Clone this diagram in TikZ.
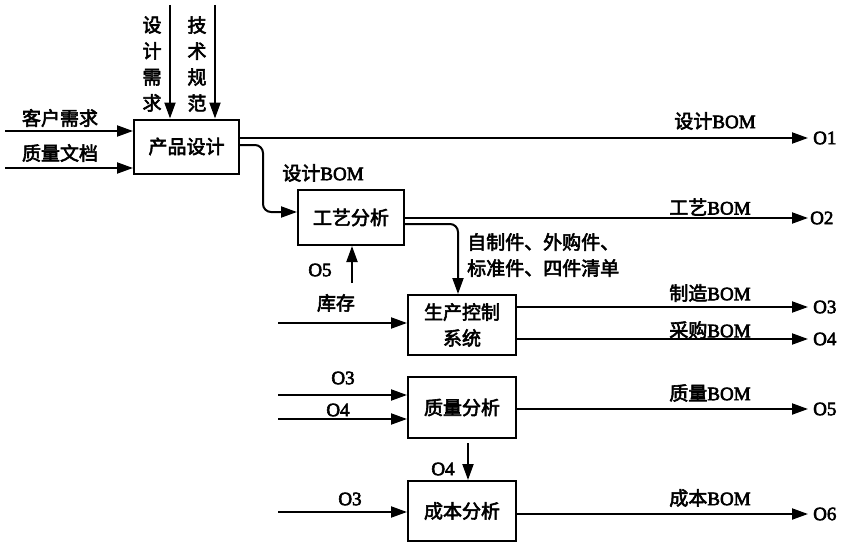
\documentclass[tikz,border=0pt]{standalone}
\usepackage{fontspec}
\setmainfont[FakeBold=3]{Liberation Serif}
\newfontfamily\cjk[FakeBold=3]{Noto Sans CJK SC}
\usetikzlibrary{arrows.meta}
\begin{document}
\begin{tikzpicture}[x=1pt,y=-1pt,
  box/.style={draw, line width=2pt, inner sep=0pt, align=center,
    font=\fontsize{19}{26}\selectfont\cjk},
  arr/.style={line width=2pt, -{Triangle[length=16pt,width=11pt]}},
  zh/.style={inner sep=0pt, font=\fontsize{19}{26}\selectfont\cjk},
  lat/.style={inner sep=0pt, font=\fontsize{19}{22}\selectfont},
  onode/.style={lat, anchor=west}]
\useasboundingbox (0,0) rectangle (851,551);

% boxes
\node[box, minimum width=105pt, minimum height=54pt] (A) at (186.5,146.5) {产品设计};
\node[box, minimum width=106pt, minimum height=55pt] (B) at (351,217.5) {工艺分析};
\node[box, minimum width=108pt, minimum height=60pt] (C) at (462,325) {生产控制\\系统};
\node[box, minimum width=108pt, minimum height=61pt] (D) at (462,407.5) {质量分析};
\node[box, minimum width=108pt, minimum height=60pt] (E) at (462,511) {成本分析};

% output end points
\coordinate (o1) at (808,138);
\coordinate (o2) at (808,218);
\coordinate (o3) at (808,307);
\coordinate (o4) at (808,339);
\coordinate (o5) at (808,409);
\coordinate (o6) at (808,514);
\node[onode] (O1) at ([xshift=5pt]o1) {O1};
\node[onode] (O2) at ([xshift=2pt]o2) {O2};
\node[onode] (O3) at ([xshift=5pt]o3) {O3};
\node[onode] (O4) at ([xshift=5pt]o4) {O4};
\node[onode] (O5) at ([xshift=5pt]o5) {O5};
\node[onode] (O6) at ([xshift=5pt]o6) {O6};

% inputs to A
\coordinate (i1) at (5,131);
\coordinate (i2) at (5,168);
\draw[arr] (i1) -- (A.west |- i1);
\draw[arr] (i2) -- (A.west |- i2);
\node[zh] (li1) at (60,118) {客户需求};
\node[zh] (li2) at (60,153) {质量文档};

% controls to A
\coordinate (t1) at (170,5);
\coordinate (t2) at (215,5);
\draw[arr] (t1) -- (t1 |- A.north);
\draw[arr] (t2) -- (t2 |- A.north);
\node[zh, align=center] (lt1) at (152,64) {设\\计\\需\\求};
\node[zh, align=center] (lt2) at (197,64) {技\\术\\规\\范};

% outputs of A
\draw[arr] (A.east |- o1) -- (o1);
\node[lat] (la1) at (715,121) {{\cjk 设计}BOM};
\coordinate (a2) at (263,145);
\coordinate (b1) at (298,212);
\draw[arr, rounded corners=8pt] (A.east |- a2) -- (a2) -- (a2 |- b1) -- (B.west |- b1);
\node[lat] (la2) at (323,173) {{\cjk 设计}BOM};

% outputs of B
\draw[arr] (B.east |- o2) -- (o2);
\node[lat] (lb1) at (710,207) {{\cjk 工艺}BOM};
\coordinate (b2) at (458,224);
\draw[arr, rounded corners=8pt] (B.east |- b2) -- (b2) -- (b2 |- C.north);
\node[zh, anchor=west, align=left] (lb2) at (467,255) {自制件、外购件、\\标准件、四件清单};

% mechanism to B
\coordinate (b3) at (352,283);
\draw[arr] (b3) -- (b3 |- B.south);
\node[lat] (lo5) at (320,270) {O5};
\node[zh] (lkc) at (336,303) {库存};

% C
\coordinate (c1) at (278,323);
\draw[arr] (c1) -- (C.west |- c1);
\draw[arr] (C.east |- o3) -- (o3);
\draw[arr] (C.east |- o4) -- (o4);
\node[lat] (lc1) at (710,293) {{\cjk 制造}BOM};
\node[lat] (lc2) at (710,330) {{\cjk 采购}BOM};

% D
\coordinate (d1) at (278,395);
\coordinate (d2) at (278,419);
\draw[arr] (d1) -- (D.west |- d1);
\draw[arr] (d2) -- (D.west |- d2);
\node[lat] (ld1) at (343,378) {O3};
\node[lat] (ld2) at (338,410) {O4};
\draw[arr] (D.east |- o5) -- (o5);
\node[lat] (ld3) at (710,393) {{\cjk 质量}BOM};
\coordinate (d3) at (468,443);
\draw[arr] (d3) -- (d3 |- E.north);
\node[lat] (ld4) at (443,469) {O4};

% E
\coordinate (e1) at (278,512);
\draw[arr] (e1) -- (E.west |- e1);
\node[lat] (le1) at (350,499) {O3};
\draw[arr] (E.east |- o6) -- (o6);
\node[lat] (le2) at (710,498) {{\cjk 成本}BOM};
\end{tikzpicture}
\end{document}
